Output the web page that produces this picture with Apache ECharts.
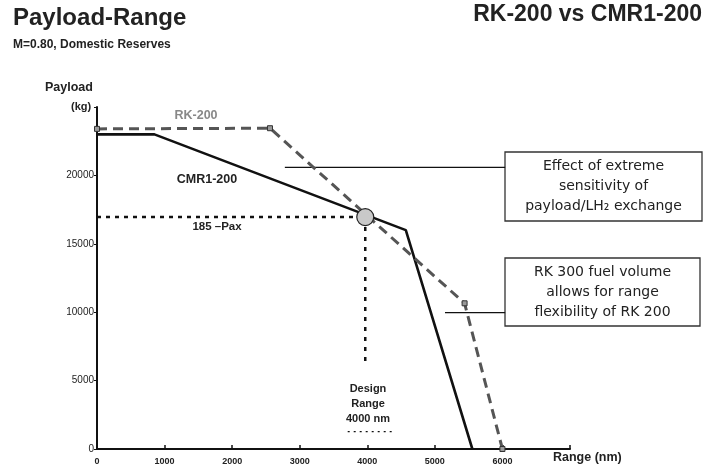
<!DOCTYPE html>
<html>
<head>
<meta charset="utf-8">
<title>Payload-Range</title>
<script src="https://cdn.jsdelivr.net/npm/echarts@6/dist/echarts.min.js"></script>
<style>
  html, body { margin: 0; padding: 0; background: #fff; }
  #main { width: 717px; height: 469px; }
</style>
</head>
<body>
<div id="main"></div>
<script>
// tick labels shown on the axes
var rangeTicks = [0, 1000, 2000, 3000, 4000, 5000, 6000];
var payloadTicks = [0, 5000, 10000, 15000, 20000];

// curves: [range nm, payload kg]
var rk200 = [[0, 23400], [2560, 23450], [5440, 10650], [6000, 0]];
var cmr1200 = [[0, 23000], [850, 23000], [4570, 16000], [5555, 0]];

// design point and its helper lines
var designPoint = [[3970, 16950]];
var paxLine = [[0, 16950], [3970, 16950]];
var designDrop = [[3970, 16950], [3970, 6000]];
var designUnder = [[3710, 1270], [4410, 1270]];

// leader lines going to the note boxes
var leaderEffect = [[2780, 20580], [6040, 20580]];
var leaderFuel = [[5150, 9970], [6040, 9970]];

var FONT = '"Liberation Sans", Arial, sans-serif';
var NOTE_FONT = '"DejaVu Sans", Verdana, sans-serif';

function refLine(name, data, width, dash) {
  return {
    name: name,
    type: 'line',
    data: data,
    showSymbol: false,
    silent: true,
    z: 1,
    lineStyle: { color: '#111', width: width, type: dash }
  };
}

function label(text, x, y, size, color, align) {
  return {
    type: 'text',
    style: {
      text: text,
      x: x,
      y: y,
      font: 'bold ' + size + 'px ' + FONT,
      fill: color,
      textAlign: align || 'left',
      align: align || 'left',
      textVerticalAlign: 'middle',
      verticalAlign: 'middle'
    }
  };
}

function noteBox(x, y, w, h, lines) {
  return {
    type: 'group',
    children: [
      {
        type: 'rect',
        shape: { x: x, y: y, width: w, height: h },
        style: { fill: '#fff', stroke: '#333', lineWidth: 1.3 }
      },
      {
        type: 'text',
        style: {
          text: lines.join('\n'),
          x: x + w / 2,
          y: y + h / 2,
          font: '14px ' + NOTE_FONT,
          fill: '#222',
          lineHeight: 20,
          textAlign: 'center',
          align: 'center',
          textVerticalAlign: 'middle',
          verticalAlign: 'middle'
        }
      }
    ]
  };
}

var chart = echarts.init(document.getElementById('main'));

var option = {
  animation: false,
  backgroundColor: '#fff',
  grid: { left: 97, right: 147, top: 107, bottom: 20 },
  xAxis: {
    type: 'value',
    min: 0,
    max: 7000,
    interval: 1000,
    splitLine: { show: false },
    axisLine: { onZero: false, lineStyle: { color: '#111', width: 2 } },
    axisTick: { inside: true, length: 4, lineStyle: { color: '#111', width: 1.5 } },
    axisLabel: {
      margin: 8,
      fontSize: 9,
      fontWeight: 'bold',
      fontFamily: FONT,
      color: '#222',
      formatter: function (v) {
        return rangeTicks.indexOf(v) >= 0 ? String(v) : '';
      }
    }
  },
  yAxis: {
    type: 'value',
    min: 0,
    max: 25000,
    interval: 5000,
    splitLine: { show: false },
    axisLine: { onZero: false, lineStyle: { color: '#111', width: 2 } },
    axisTick: { length: 3, lineStyle: { color: '#111', width: 1 } },
    axisLabel: {
      margin: 3,
      fontSize: 10,
      fontFamily: FONT,
      color: '#222',
      formatter: function (v) {
        return payloadTicks.indexOf(v) >= 0 ? String(v) : '';
      }
    }
  },
  series: [
    refLine('185 Pax', paxLine, 2.5, [4, 5]),
    refLine('Design drop', designDrop, 2.5, [4, 6]),
    refLine('Design under', designUnder, 1.2, [2, 4]),
    refLine('Leader effect', leaderEffect, 1.2, 'solid'),
    refLine('Leader fuel', leaderFuel, 1.2, 'solid'),
    {
      name: 'CMR1-200',
      type: 'line',
      data: cmr1200,
      showSymbol: false,
      z: 3,
      lineStyle: { color: '#111', width: 2.6 }
    },
    {
      name: 'RK-200',
      type: 'line',
      data: rk200,
      symbol: 'rect',
      symbolSize: 5,
      z: 4,
      itemStyle: { color: '#999', borderColor: '#333', borderWidth: 1 },
      lineStyle: { color: '#555', width: 3, type: [10, 6] }
    },
    {
      name: 'Design point',
      type: 'scatter',
      data: designPoint,
      symbol: 'circle',
      symbolSize: 17,
      z: 10,
      itemStyle: { color: '#c9c9c9', borderColor: '#222', borderWidth: 1.2, opacity: 1 }
    }
  ],
  graphic: [
    label('Payload-Range', 13, 18, 24, '#222'),
    label('M=0.80, Domestic Reserves', 13, 45, 12, '#222'),
    label('RK-200 vs CMR1-200', 702, 15, 23, '#222', 'right'),
    label('Payload', 45, 88, 12.5, '#222'),
    label('(kg)', 71, 107, 11, '#222'),
    label('RK-200', 196, 116, 12.5, '#888', 'center'),
    label('CMR1-200', 207, 180, 12.5, '#222', 'center'),
    label('185 \u2013Pax', 217, 227, 11.5, '#222', 'center'),
    label('Design', 368, 389, 11, '#222', 'center'),
    label('Range', 368, 404, 11, '#222', 'center'),
    label('4000 nm', 368, 419, 11, '#222', 'center'),
    label('Range (nm)', 553, 458, 12.5, '#222'),
    noteBox(505, 152, 197, 69, ['Effect of extreme', 'sensitivity of', 'payload/LH\u2082 exchange']),
    noteBox(505, 258, 195, 68, ['RK 300 fuel volume', 'allows for range', 'flexibility of RK 200'])
  ]
};

chart.setOption(option);
</script>
</body>
</html>
